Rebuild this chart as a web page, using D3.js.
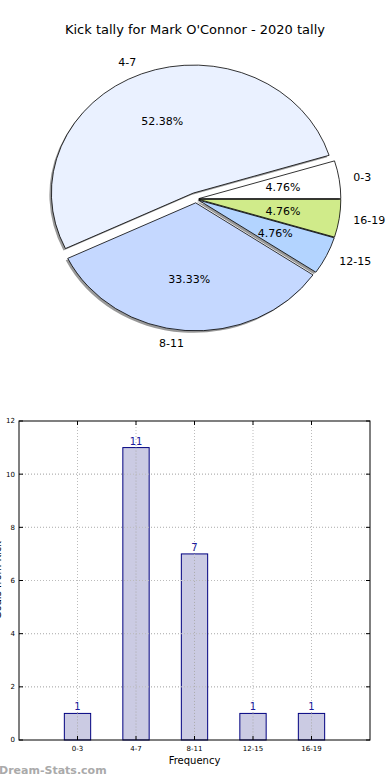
<!DOCTYPE html>
<html>
<head>
<script src="https://cdnjs.cloudflare.com/ajax/libs/d3/7.8.5/d3.min.js"></script>
<style>
  body { margin: 0; background: #fff; }
  svg { font-family: 'DejaVu Sans', sans-serif; }
</style>
</head>
<body>
<script>
    // chart data
    const categories = ["0-3", "4-7", "8-11", "12-15", "16-19"];
    const counts = [1, 11, 7, 1, 1];
    const pieColors = ["#ffffff", "#eaf1ff", "#c5d8ff", "#b3d4ff", "#d0eb8a"];
    const explode = [0.02, 0.05, 0.03, 0.02, 0.02];
    const yTicks = [0, 2, 4, 6, 8, 10, 12];

    const W = 390, H = 780;
    const svg = d3.select("body").append("svg")
        .attr("width", W).attr("height", H);

    svg.append("text")
        .attr("x", 195).attr("y", 34)
        .attr("text-anchor", "middle")
        .attr("font-size", 13)
        .text("Kick tally for Mark O'Connor - 2020 tally");

    // ---- pie (matplotlib style: ccw from east, squashed to an ellipse) ----
    const cx = 196, cy = 199, rx = 142, ry = 128;
    const total = d3.sum(counts);
    const pie = d3.pie().sort(null).value(d => d)(counts);
    const arc = d3.arc().innerRadius(0).outerRadius(rx);

    const slices = pie.map((p, i) => {
        const t0 = p.startAngle, t1 = p.endAngle;   // used as ccw angles from east
        const mid = (t0 + t1) / 2;
        const dx = explode[i] * rx * Math.cos(mid);
        const dy = -explode[i] * ry * Math.sin(mid);
        return { i, t0, t1, mid, dx, dy, v: p.value };
    });

    const pieG = svg.append("g");
    // shadows first
    slices.forEach(s => {
        pieG.append("path")
            .attr("transform", `translate(${cx + s.dx - 2},${cy + s.dy + 2}) scale(1,${ry / rx})`)
            .attr("d", arc({ startAngle: Math.PI / 2 - s.t0, endAngle: Math.PI / 2 - s.t1 }))
            .attr("fill", "#777")
            .attr("opacity", 0.75);
    });
    slices.forEach(s => {
        pieG.append("path")
            .attr("transform", `translate(${cx + s.dx},${cy + s.dy}) scale(1,${ry / rx})`)
            .attr("d", arc({ startAngle: Math.PI / 2 - s.t0, endAngle: Math.PI / 2 - s.t1 }))
            .attr("fill", pieColors[s.i])
            .attr("stroke", "#000")
            .attr("stroke-width", 0.8)
            .attr("vector-effect", "non-scaling-stroke");
    });
    slices.forEach(s => {
        const c = Math.cos(s.mid), sn = Math.sin(s.mid);
        pieG.append("text")
            .attr("x", cx + s.dx + 1.1 * rx * c)
            .attr("y", cy + s.dy - 1.1 * ry * sn)
            .attr("dy", "0.35em")
            .attr("text-anchor", c > 0 ? "start" : "end")
            .attr("font-size", 11)
            .text(categories[s.i]);
        pieG.append("text")
            .attr("x", cx + s.dx + 0.6 * rx * c)
            .attr("y", cy + s.dy - 0.6 * ry * sn)
            .attr("dy", "0.35em")
            .attr("text-anchor", "middle")
            .attr("font-size", 11)
            .text((s.v / total * 100).toFixed(2) + "%");
    });

    // ---- bar chart ----
    const pLeft = 19, pRight = 370, pTop = 421, pBottom = 740;
    const x = d3.scaleLinear().domain([0, categories.length + 1]).range([pLeft, pRight]);
    const y = d3.scaleLinear().domain([0, 12]).range([pBottom, pTop]);
    const barW = 0.45;

    const g = svg.append("g");

    // grid
    g.selectAll(".gy").data(yTicks.slice(1, -1)).enter().append("line")
        .attr("x1", pLeft).attr("x2", pRight)
        .attr("y1", d => y(d)).attr("y2", d => y(d))
        .attr("stroke", "#bbb").attr("stroke-dasharray", "1,2");
    g.selectAll(".gx").data(categories).enter().append("line")
        .attr("x1", (d, i) => x(i + 1)).attr("x2", (d, i) => x(i + 1))
        .attr("y1", pTop).attr("y2", pBottom)
        .attr("stroke", "#bbb").attr("stroke-dasharray", "1,2");

    // bars
    g.selectAll(".bar").data(counts).enter().append("rect")
        .attr("x", (d, i) => x(i + 1 - barW / 2))
        .attr("width", x(barW) - x(0))
        .attr("y", d => y(d))
        .attr("height", d => y(0) - y(d))
        .attr("fill", "#cbcbe3")
        .attr("stroke", "#000080")
        .attr("stroke-width", 1);

    // grid shows through the bars in the original
    g.selectAll(".gx2").data(counts).enter().append("line")
        .attr("x1", (d, i) => x(i + 1)).attr("x2", (d, i) => x(i + 1))
        .attr("y1", d => y(d)).attr("y2", pBottom)
        .attr("stroke", "#aaa").attr("stroke-dasharray", "1,2");
    g.selectAll(".gy2").data(yTicks.slice(1, -1)).enter().append("line")
        .attr("x1", pLeft).attr("x2", pRight)
        .attr("y1", d => y(d)).attr("y2", d => y(d))
        .attr("stroke", "#bbb").attr("stroke-dasharray", "1,2");

    g.selectAll(".val").data(counts).enter().append("text")
        .attr("x", (d, i) => x(i + 1))
        .attr("y", d => y(d) - 3)
        .attr("text-anchor", "middle")
        .attr("font-size", 10)
        .attr("fill", "#1a1a9c")
        .text(d => d);

    // frame
    g.append("rect")
        .attr("x", pLeft).attr("y", pTop)
        .attr("width", pRight - pLeft).attr("height", pBottom - pTop)
        .attr("fill", "none").attr("stroke", "#000").attr("stroke-width", 1);

    // ticks (inside, both sides)
    yTicks.forEach(t => {
        g.append("line").attr("x1", pLeft).attr("x2", pLeft + 4)
            .attr("y1", y(t)).attr("y2", y(t)).attr("stroke", "#000");
        g.append("line").attr("x1", pRight - 4).attr("x2", pRight)
            .attr("y1", y(t)).attr("y2", y(t)).attr("stroke", "#000");
        g.append("text").attr("x", pLeft - 4).attr("y", y(t))
            .attr("dy", "0.35em").attr("text-anchor", "end")
            .attr("font-size", 7).text(t);
    });
    categories.forEach((c, i) => {
        g.append("line").attr("x1", x(i + 1)).attr("x2", x(i + 1))
            .attr("y1", pBottom - 4).attr("y2", pBottom).attr("stroke", "#000");
        g.append("line").attr("x1", x(i + 1)).attr("x2", x(i + 1))
            .attr("y1", pTop).attr("y2", pTop + 4).attr("stroke", "#000");
        g.append("text").attr("x", x(i + 1)).attr("y", pBottom + 11)
            .attr("text-anchor", "middle")
            .attr("font-size", 7).text(c);
    });

    svg.append("text")
        .attr("x", (pLeft + pRight) / 2).attr("y", 764)
        .attr("text-anchor", "middle")
        .attr("font-size", 10)
        .text("Frequency");

    // y label sits mostly off the left edge, as in the original
    svg.append("text")
        .attr("transform", "translate(1,580) rotate(-90)")
        .attr("text-anchor", "middle")
        .attr("font-size", 10)
        .text("Goals from Kick");

    svg.append("text")
        .attr("x", -1).attr("y", 774)
        .attr("font-size", 11)
        .attr("font-weight", "bold")
        .attr("fill", "#aaa")
        .text("Dream-Stats.com");
</script>
</body>
</html>
